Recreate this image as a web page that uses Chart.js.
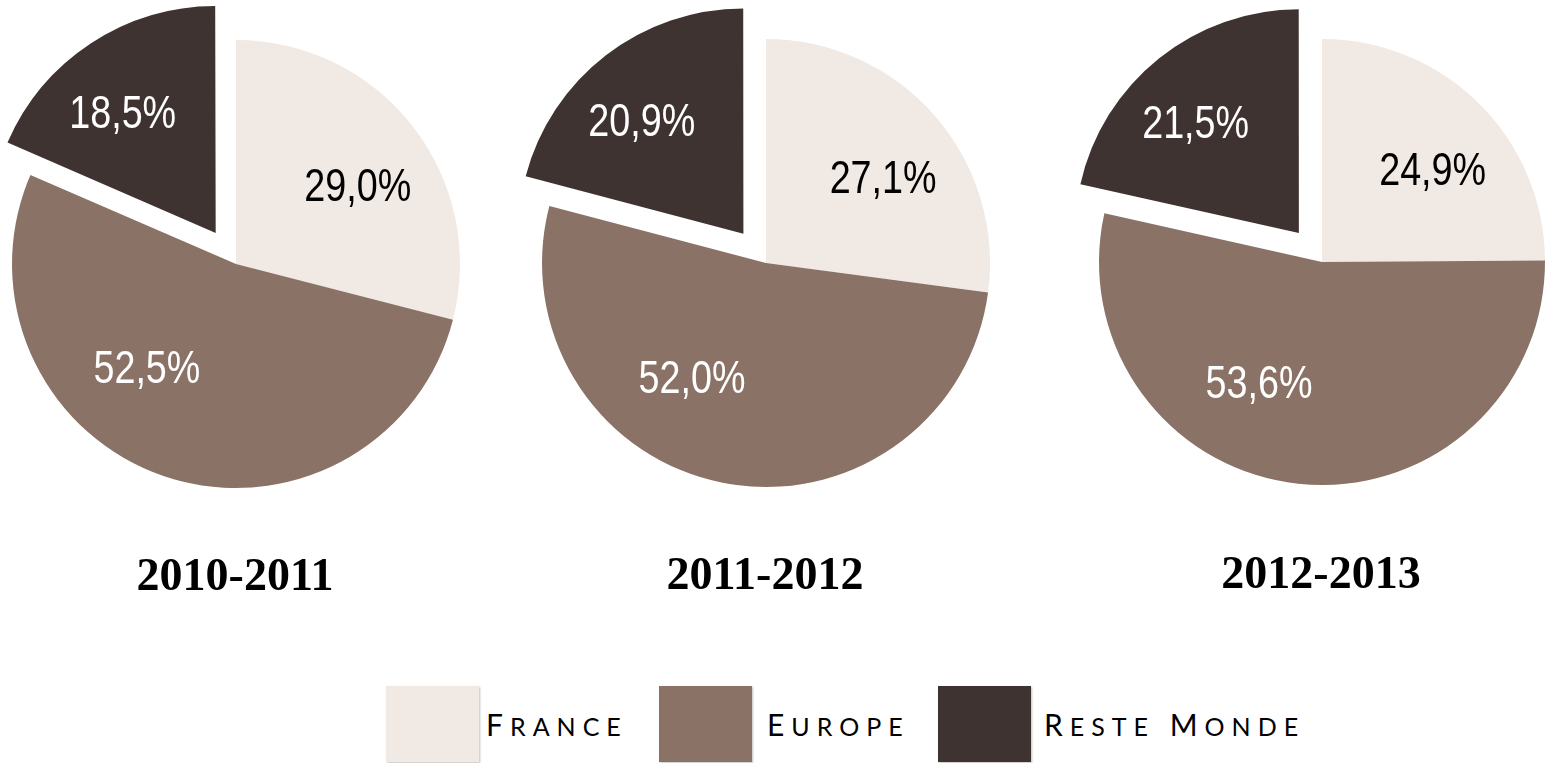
<!DOCTYPE html>
<html><head><meta charset="utf-8">
<script src="https://cdn.jsdelivr.net/npm/chart.js@4.4.0/dist/chart.umd.min.js"></script>
<style>
html,body{margin:0;padding:0;width:1546px;height:763px;overflow:hidden;background:#fff;}
.pie{position:absolute;}
.lbox{position:absolute;top:686px;width:93px;height:76px;box-shadow:1px 1px 2px rgba(0,0,0,0.25);}
.ltext{position:absolute;top:704px;font-family:Lato,'DejaVu Sans',sans-serif;color:#000;white-space:nowrap;letter-spacing:7px;line-height:40px;height:40px;}
.big{font-size:30px;}
.sm{font-size:25px;}
</style></head><body>
<canvas id="c0" class="pie" width="620" height="700"></canvas>
<canvas id="c1" class="pie" width="620" height="700"></canvas>
<canvas id="c2" class="pie" width="620" height="700"></canvas>
<div id="legend"></div>
<script>
const categories = ['France', 'Europe', 'Reste Monde'];
const periods = ['2010-2011', '2011-2012', '2012-2013'];
const share2010 = [29.0, 52.5, 18.5];
const share2011 = [27.1, 52.0, 20.9];
const share2012 = [24.9, 53.6, 21.5];
const colors = ['#F1E9E3', '#8B7266', '#3E3330'];
const labelColors = ['#000000', '#ffffff', '#ffffff'];

const seriesList = [share2010, share2011, share2012];
const centers = [[236, 264], [766, 263], [1322, 262]];
const radii = [224, 224, 223];
const labelShift = [6, 21, -5];
const labelDist = [0.64, 0.62, 0.67];

function fmt(v){ return v.toFixed(1).replace('.', ',') + '%'; }

const labelPlugin = {
  id: 'sliceLabels',
  afterDatasetsDraw(chart){
    const ctx = chart.ctx;
    const meta = chart.getDatasetMeta(0);
    const ds = chart.data.datasets[0];
    meta.data.forEach((arc, i) => {
      const p = arc.getProps(['x','y','startAngle','endAngle','outerRadius'], true);
      const mid = (p.startAngle + p.endAngle) / 2;
      const off = (arc.options.offset || 0) / 4;
      const ox = p.x + Math.cos(mid) * off, oy = p.y + Math.sin(mid) * off;
      const a = mid + labelShift[i] * Math.PI / 180;
      const r = p.outerRadius * labelDist[i];
      const lx = ox + Math.cos(a) * r, ly = oy + Math.sin(a) * r;
      ctx.save();
      ctx.translate(lx, ly);
      ctx.scale(0.82, 1);
      ctx.font = '46px "Liberation Sans", Arial, sans-serif';
      ctx.textAlign = 'center';
      ctx.textBaseline = 'middle';
      ctx.fillStyle = labelColors[i];
      ctx.fillText(fmt(ds.data[i]), 0, 0);
      ctx.restore();
    });
  }
};

const titlePlugin = {
  id: 'bottomTitle',
  afterDraw(chart){
    const ctx = chart.ctx;
    const a = chart.chartArea;
    ctx.save();
    ctx.font = 'bold 46px "Liberation Serif", "Times New Roman", serif';
    ctx.fillStyle = '#000';
    ctx.textAlign = 'center';
    ctx.textBaseline = 'alphabetic';
    ctx.fillText(chart.options.plugins.bottomTitle.text, (a.left + a.right) / 2 - 1, (a.top + a.bottom) / 2 + 326);
    ctx.restore();
  }
};

seriesList.forEach((vals, k) => {
  const cv = document.getElementById('c' + k);
  cv.style.left = (centers[k][0] - 310) + 'px';
  cv.style.top = (centers[k][1] - 310) + 'px';
  new Chart(cv, {
    type: 'pie',
    data: {
      labels: categories,
      datasets: [{
        data: vals,
        backgroundColor: colors,
        borderWidth: 0,
        offset: [0, 0, 148],
        hoverOffset: 0
      }]
    },
    options: {
      responsive: false,
      animation: false,
      events: [],
      radius: radii[k],
      layout: { padding: { bottom: 80 } },
      plugins: {
        legend: { display: false },
        tooltip: { enabled: false },
        bottomTitle: { text: periods[k] }
      }
    },
    plugins: [labelPlugin, titlePlugin]
  });
});

// HTML legend built from categories
const boxLeft = [386, 659, 938];
const textLeft = [486, 767, 1044];
const leg = document.getElementById('legend');
categories.forEach((c, i) => {
  const b = document.createElement('div');
  b.className = 'lbox';
  b.style.left = boxLeft[i] + 'px';
  b.style.background = colors[i];
  leg.appendChild(b);
  const t = document.createElement('div');
  t.className = 'ltext';
  t.style.left = textLeft[i] + 'px';
  t.innerHTML = c.split(' ').map(w => '<span class="big">' + w[0].toUpperCase() + '</span><span class="sm">' + w.slice(1).toUpperCase() + '</span>').join('<span class="big"> </span>');
  leg.appendChild(t);
});
</script>
</body></html>
